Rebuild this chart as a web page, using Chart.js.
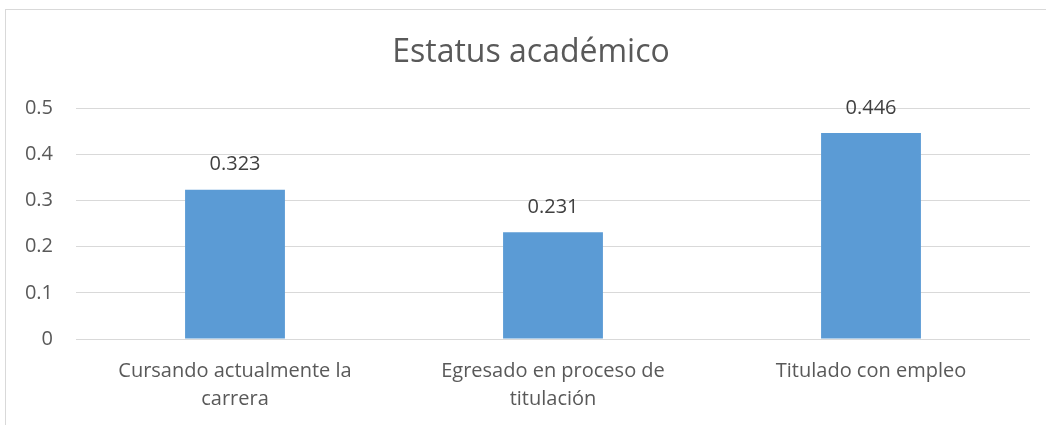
<!DOCTYPE html>
<html>
<head>
<meta charset="utf-8">
<script src="https://cdn.jsdelivr.net/npm/chart.js@4"></script>
<style>
  html, body { margin: 0; padding: 0; background: #fff; overflow: hidden; }
  #wrap { position: relative; width: 1046px; height: 425px; }
  #frame { position: absolute; left: 5px; top: 9px; width: 1060px; height: 440px; border: 1px solid #d9d9d9; box-sizing: border-box; }
  canvas { position: absolute; left: 0; top: 0; }
</style>
</head>
<body>
<div id="wrap">
  <div id="frame"></div>
  <canvas id="chart" width="1046" height="425"></canvas>
</div>
<script>
const chartTitle = 'Estatus académico';
const categories = [
  ['Cursando actualmente la', 'carrera'],
  ['Egresado en proceso de', 'titulación'],
  'Titulado con empleo'
];
const values = [0.323, 0.231, 0.446];
const yTicks = [0, 0.1, 0.2, 0.3, 0.4, 0.5];

const fontFamily = '"Open Sans", "Noto Sans", sans-serif';

// título centrado en el marco del gráfico, no en el lienzo
const frameTitle = {
  id: 'frameTitle',
  afterDraw(chart) {
    const ctx = chart.ctx;
    ctx.save();
    ctx.font = '32px ' + fontFamily;
    ctx.fillStyle = '#595959';
    ctx.textAlign = 'center';
    ctx.textBaseline = 'middle';
    ctx.fillText(chartTitle, 531, 53);
    ctx.restore();
  }
};

// etiquetas de valor encima de cada barra
const barLabels = {
  id: 'barLabels',
  afterDatasetsDraw(chart) {
    const ctx = chart.ctx;
    const meta = chart.getDatasetMeta(0);
    ctx.save();
    ctx.font = '20px ' + fontFamily;
    ctx.fillStyle = '#404040';
    ctx.textAlign = 'center';
    ctx.textBaseline = 'middle';
    meta.data.forEach((bar, i) => {
      ctx.fillText(String(values[i]), bar.x, bar.y - 25);
    });
    ctx.restore();
  }
};

new Chart(document.getElementById('chart'), {
  type: 'bar',
  data: {
    labels: categories,
    datasets: [{
      data: values,
      backgroundColor: '#5b9bd5',
      barPercentage: 0.314,
      categoryPercentage: 1
    }]
  },
  options: {
    responsive: false,
    animation: false,
    layout: { padding: { left: 0, right: 16, top: 108, bottom: 0 } },
    plugins: {
      legend: { display: false },
      tooltip: { enabled: false },
      title: { display: false }
    },
    scales: {
      x: {
        grid: { display: false },
        border: { display: false },
        ticks: {
          color: '#595959',
          padding: 10,
          maxRotation: 0,
          font: { family: fontFamily, size: 20, lineHeight: 1.4 }
        },
        afterFit: s => { s.height = 86; }
      },
      y: {
        min: 0,
        max: 0.5,
        afterBuildTicks: s => { s.ticks = yTicks.map(v => ({ value: v })); },
        grid: { color: '#d9d9d9', lineWidth: 1, drawTicks: false },
        border: { display: false },
        ticks: {
          color: '#595959',
          padding: 23,
          font: { family: fontFamily, size: 20 },
          callback: v => String(v)
        },
        afterFit: s => { s.width = 76; }
      }
    }
  },
  plugins: [barLabels, frameTitle]
});
</script>
</body>
</html>
